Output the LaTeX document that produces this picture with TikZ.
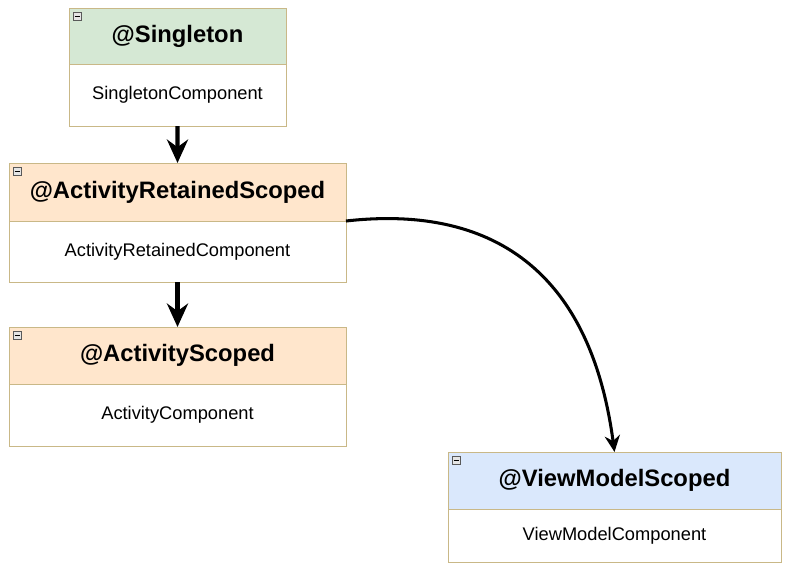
\documentclass[tikz,border=0pt]{standalone}
\usepackage{fontspec}
\setmainfont{Liberation Sans}
\usepackage{xcolor}
\usetikzlibrary{arrows.meta,positioning}

\definecolor{edge}{HTML}{C9B887}
\definecolor{greenfill}{HTML}{D5E8D4}
\definecolor{orangefill}{HTML}{FFE6CC}
\definecolor{bluefill}{HTML}{DAE8FC}

\begin{document}
\begin{tikzpicture}[
    x=0.03cm, y=-0.03cm,
    node distance=0pt,
    head/.style={rectangle, draw=edge, line width=0.8pt, inner sep=0pt, outer sep=0pt,
        anchor=north west, font=\fontsize{20.3}{24}\selectfont\bfseries},
    body/.style={rectangle, draw=edge, line width=0.8pt, fill=white, inner sep=0pt,
        outer sep=0pt, font=\fontsize{15.6}{18}\selectfont},
    icon/.style={draw=gray!70!black, fill=black!10, line width=0.5pt},
    arrow/.style={-{Stealth[length=20pt,width=18pt]}, line width=3.6pt},
    curved/.style={-{Stealth[length=14pt,width=13pt]}, line width=2.6pt}
]
\useasboundingbox (0,0) rectangle (788,571);

% scopes
\node[head, fill=greenfill, minimum width=6.51cm, minimum height=1.68cm] (singh) at (69,8) {@Singleton};
\node[body, below=of singh, minimum width=6.51cm, minimum height=1.86cm] (singb) {SingletonComponent};

\node[head, fill=orangefill, minimum width=10.11cm, minimum height=1.74cm] (arsh) at (9,163) {@ActivityRetainedScoped};
\node[body, below=of arsh, minimum width=10.11cm, minimum height=1.83cm] (arsb) {ActivityRetainedComponent};

\node[head, fill=orangefill, minimum width=10.11cm, minimum height=1.71cm] (ash) at (9,327) {@ActivityScoped};
\node[body, below=of ash, minimum width=10.11cm, minimum height=1.86cm] (asb) {ActivityComponent};

\node[head, fill=bluefill, minimum width=9.99cm, minimum height=1.71cm] (vmh) at (448,452) {@ViewModelScoped};
\node[body, below=of vmh, minimum width=9.99cm, minimum height=1.59cm] (vmb) {ViewModelComponent};

% collapse icons
\foreach \h in {singh,arsh,ash,vmh} {
    \draw[icon] ([shift={(4,4)}]\h.north west) rectangle ++(8,8);
    \draw[line width=0.8pt] ([shift={(5.5,8)}]\h.north west) -- ++(5,0);
}

\draw[arrow] (singb) -- (arsh);
\draw[arrow] (arsb) -- (ash);
\draw[curved] (arsh.south east) .. controls +(124,-14) and +(-27,-202) .. (vmh.north);
\end{tikzpicture}
\end{document}
